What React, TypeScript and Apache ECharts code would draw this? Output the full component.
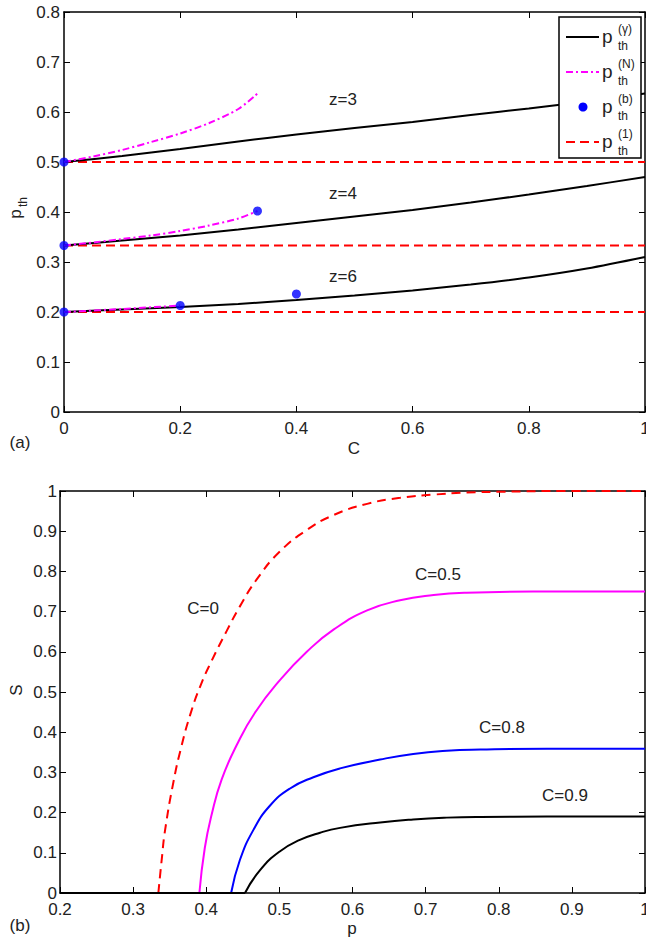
import React, { useEffect, useRef } from "react";
import * as echarts from "echarts";

// ---------- Panel (a) data ----------
const gammaC = [0, 0.1, 0.2, 0.3, 0.4, 0.5, 0.6, 0.7, 0.8, 0.9, 1.0];
const z3Gamma = [0.5, 0.512, 0.526, 0.541, 0.555, 0.568, 0.58, 0.594, 0.607, 0.621, 0.637];
const z4Gamma = [0.333, 0.343, 0.353, 0.365, 0.378, 0.391, 0.404, 0.419, 0.435, 0.452, 0.47];
const z6Gamma = [0.2, 0.205, 0.21, 0.216, 0.224, 0.233, 0.243, 0.255, 0.269, 0.287, 0.31];

const nC = [0, 0.05, 0.1, 0.15, 0.2, 0.25, 0.3, 0.333];
const z3N = [0.5, 0.511, 0.524, 0.54, 0.557, 0.578, 0.606, 0.637];
const z4N = [0.333, 0.339, 0.346, 0.353, 0.362, 0.373, 0.387, 0.402];
const nC6 = [0, 0.1, 0.2];
const z6N = [0.2, 0.206, 0.213];

const bC = [0, 0, 0, 0.333, 0.2, 0.4];
const bP = [0.5, 0.333, 0.2, 0.402, 0.213, 0.236];

const oneThresholds = [0.5, 0.333, 0.2];
const zLabels = ["z=3", "z=4", "z=6"];

// ---------- Panel (b) data ----------
const c0P = [0.3345, 0.3395, 0.3436, 0.355, 0.3665, 0.378, 0.3915, 0.4075, 0.428, 0.446, 0.469, 0.501, 0.5375, 0.574, 0.62, 0.665, 0.711, 0.756, 0.8, 0.9, 1.0];
const c0S = [0, 0.09, 0.155, 0.275, 0.368, 0.443, 0.513, 0.578, 0.652, 0.713, 0.78, 0.85, 0.903, 0.94, 0.968, 0.983, 0.991, 0.996, 0.998, 1.0, 1.0];
const c05P = [0.3906, 0.398, 0.4075, 0.421, 0.4417, 0.4668, 0.501, 0.5375, 0.574, 0.62, 0.665, 0.711, 0.756, 0.847, 1.0];
const c05S = [0, 0.112, 0.196, 0.282, 0.368, 0.449, 0.53, 0.6, 0.655, 0.703, 0.728, 0.741, 0.747, 0.75, 0.75];
const c08P = [0.434, 0.446, 0.4645, 0.487, 0.5146, 0.5465, 0.583, 0.6378, 0.683, 0.729, 0.775, 0.866, 1.0];
const c08S = [0, 0.082, 0.157, 0.217, 0.26, 0.288, 0.31, 0.332, 0.346, 0.354, 0.357, 0.359, 0.359];
const c09P = [0.453, 0.4736, 0.501, 0.528, 0.5557, 0.583, 0.6378, 0.683, 0.729, 0.775, 0.866, 1.0];
const c09S = [0, 0.057, 0.104, 0.132, 0.15, 0.162, 0.1755, 0.183, 0.1875, 0.1893, 0.19, 0.19];
const pStart = 0.2;
const cLabels = ["C=0", "C=0.5", "C=0.8", "C=0.9"];

const FONT = "'Liberation Sans', Arial, Helvetica, sans-serif";
const TXT = "#222";
const MAGENTA = "#ff00ff";
const BLUE = "#0000ff";
const RED = "#ff0000";
const BASE_W = 646;
const BASE_H = 941;

const pairs = (xs: number[], ys: number[]) => xs.map((x, i) => [x, ys[i]]);

function makeAxis(gridIndex: number, position: string, min: number, max: number, interval: number, showLabel: boolean, margin: number) {
  return {
    type: "value",
    gridIndex,
    position,
    min,
    max,
    interval,
    axisLine: { show: true, onZero: false, lineStyle: { color: "#000", width: 1.5 } },
    axisTick: { show: true, inside: true, length: 6, lineStyle: { color: "#000", width: 1 } },
    axisLabel: { show: showLabel, fontSize: 17, fontFamily: FONT, color: TXT, margin },
    splitLine: { show: false },
  };
}

export default function App() {
  const ref = useRef<HTMLDivElement>(null);

  useEffect(() => {
    if (!ref.current) return;
    document.documentElement.style.margin = "0";
    document.documentElement.style.overflow = "hidden";
    document.body.style.margin = "0";
    document.body.style.overflow = "hidden";
    const W = ref.current.clientWidth || BASE_W;
    const H = ref.current.clientHeight || BASE_H;
    const sx = W / BASE_W;
    const sy = H / BASE_H;
    const X = (v: number) => v * sx;
    const Y = (v: number) => v * sy;

    const text = (x: number, y: number, t: string, size: number, extra: any = {}) => ({
      type: "text",
      x: X(x),
      y: Y(y),
      z: 100,
      ...extra,
      style: {
        text: t,
        fontSize: size,
        fontFamily: FONT,
        fill: TXT,
        align: extra.align || "center",
        verticalAlign: "middle",
      },
    });

    const chart = echarts.init(ref.current, undefined, { renderer: "svg", width: W, height: H });

    const lineBase = { type: "line", symbol: "none", showSymbol: false };

    const series: any[] = [];
    // Panel (a)
    oneThresholds.forEach((v) => {
      series.push({
        ...lineBase, name: "p_th^(1)", xAxisIndex: 0, yAxisIndex: 0, z: 2,
        data: [[0, v], [1, v]],
        lineStyle: { color: RED, width: 2, type: [9, 5] },
      });
    });
    [z3Gamma, z4Gamma, z6Gamma].forEach((ys) => {
      series.push({
        ...lineBase, name: "p_th^(γ)", xAxisIndex: 0, yAxisIndex: 0, z: 3, smooth: 0.3,
        data: pairs(gammaC, ys),
        lineStyle: { color: "#000", width: 2 },
      });
    });
    [[nC, z3N], [nC, z4N], [nC6, z6N]].forEach(([xs, ys]) => {
      series.push({
        ...lineBase, name: "p_th^(N)", xAxisIndex: 0, yAxisIndex: 0, z: 4, smooth: 0.3,
        data: pairs(xs as number[], ys as number[]),
        lineStyle: { color: MAGENTA, width: 2, type: [7, 3, 2, 3] },
      });
    });
    series.push({
      type: "scatter", name: "p_th^(b)", xAxisIndex: 0, yAxisIndex: 0, z: 5, clip: false,
      data: pairs(bC, bP), symbolSize: 9, itemStyle: { color: BLUE },
    });

    // Panel (b)
    const curves: [number[], number[], string, any][] = [
      [c0P, c0S, RED, [9, 6]],
      [c05P, c05S, MAGENTA, "solid"],
      [c08P, c08S, BLUE, "solid"],
      [c09P, c09S, "#000", "solid"],
    ];
    curves.forEach(([xs, ys, color, dash], i) => {
      series.push({
        ...lineBase, name: cLabels[i] + " flat", xAxisIndex: 2, yAxisIndex: 2, z: 2 + i,
        data: [[pStart, 0], [xs[0], 0]],
        lineStyle: { color, width: 2, type: dash },
      });
      series.push({
        ...lineBase, name: cLabels[i], xAxisIndex: 2, yAxisIndex: 2, z: 2 + i,
        smooth: 0.5,
        data: pairs(xs, ys),
        lineStyle: { color, width: 2, type: dash },
      });
    });

    // Legend (drawn as graphic to stack sub/superscripts)
    const legX0 = 559, legY0 = 17, legW = 82, legH = 141;
    const rowY = [37, 72, 107, 142];
    const sups = ["(γ)", "(N)", "(b)", "(1)"];
    const legend: any[] = [
      { type: "rect", z: 90, shape: { x: X(legX0), y: Y(legY0), width: X(legW), height: Y(legH) }, style: { fill: "#fff", stroke: "#000", lineWidth: 1.5 } },
      { type: "line", z: 95, shape: { x1: X(566), y1: Y(rowY[0]), x2: X(599), y2: Y(rowY[0]) }, style: { stroke: "#000", lineWidth: 2 } },
      { type: "line", z: 95, shape: { x1: X(566), y1: Y(rowY[1]), x2: X(599), y2: Y(rowY[1]) }, style: { stroke: MAGENTA, lineWidth: 2, lineDash: [7, 3, 2, 3] } },
      { type: "circle", z: 95, shape: { cx: X(583), cy: Y(rowY[2]), r: 4.5 }, style: { fill: BLUE } },
      { type: "line", z: 95, shape: { x1: X(566), y1: Y(rowY[3]), x2: X(599), y2: Y(rowY[3]) }, style: { stroke: RED, lineWidth: 2, lineDash: [9, 5] } },
    ];
    rowY.forEach((y, i) => {
      legend.push(text(602, y - 1, "p", 19, { align: "left" }));
      legend.push(text(618, y - 8, sups[i], 12, { align: "left" }));
      legend.push(text(618, y + 9, "th", 12, { align: "left" }));
    });

    const graphics: any[] = [
      ...legend,
      text(343, 99, zLabels[0], 17),
      text(343, 193, zLabels[1], 17),
      text(343, 276, zLabels[2], 17),
      text(354, 448, "C", 17),
      text(20, 442, "(a)", 17),
      text(15, 214, "p", 17, { rotation: Math.PI / 2 }),
      text(23, 202, "th", 12, { rotation: Math.PI / 2 }),
      text(203, 608, cLabels[0], 17),
      text(438, 574, cLabels[1], 17),
      text(502, 727, cLabels[2], 17),
      text(565, 795, cLabels[3], 17),
      text(352, 928, "p", 17),
      text(20, 925, "(b)", 17),
      text(16, 690, "S", 17, { rotation: Math.PI / 2 }),
    ];

    chart.setOption({
      animation: false,
      backgroundColor: "#fff",
      textStyle: { fontFamily: FONT },
      grid: [
        { left: X(64), top: Y(12), width: X(581), height: Y(400), show: false, containLabel: false, outerBoundsMode: "none" },
        { left: X(60), top: Y(491), width: X(585), height: Y(402), show: false, containLabel: false, outerBoundsMode: "none" },
      ],
      xAxis: [
        makeAxis(0, "bottom", 0, 1, 0.2, true, 8),
        makeAxis(0, "top", 0, 1, 0.2, false, 8),
        makeAxis(1, "bottom", 0.2, 1, 0.1, true, 8),
        makeAxis(1, "top", 0.2, 1, 0.1, false, 8),
      ],
      yAxis: [
        makeAxis(0, "left", 0, 0.8, 0.1, true, 4),
        makeAxis(0, "right", 0, 0.8, 0.1, false, 4),
        makeAxis(1, "left", 0, 1, 0.1, true, 3),
        makeAxis(1, "right", 0, 1, 0.1, false, 3),
      ],
      series,
      graphic: graphics,
    });

    return () => chart.dispose();
  }, []);

  return (
    <div
      ref={ref}
      style={{ position: "fixed", left: 0, top: 0, width: "100vw", height: "100vh", background: "#fff" }}
    />
  );
}
